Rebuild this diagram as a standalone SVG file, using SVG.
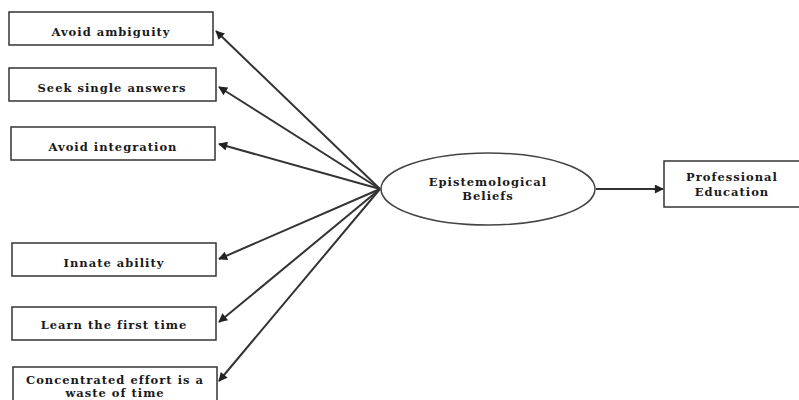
<svg xmlns="http://www.w3.org/2000/svg" width="799" height="400" viewBox="0 0 799 400">
<style>
.box{fill:#fff;stroke:#333;stroke-width:1.5}
.t{font-family:"DejaVu Serif","Liberation Serif",serif;font-weight:bold;font-size:11.5px;letter-spacing:1px;fill:#1a1a1a;text-anchor:middle}
.c{stroke:#333;stroke-width:2;fill:none;marker-end:url(#ah)}
</style>
<defs>
<marker id="ah" viewBox="0 0 10 10" refX="9" refY="5" markerWidth="6" markerHeight="4.5" orient="auto" markerUnits="strokeWidth">
<path d="M0,0 L10,5 L0,10 z" fill="#222"/>
</marker>
</defs>
<rect width="799" height="400" fill="#fff"/>
<g id="connectors">
<line class="c" x1="380" y1="189" x2="216" y2="31"/>
<line class="c" x1="380" y1="189" x2="219" y2="87"/>
<line class="c" x1="380" y1="189" x2="219" y2="144"/>
<line class="c" x1="380" y1="189" x2="219" y2="259"/>
<line class="c" x1="380" y1="189" x2="219" y2="322"/>
<line class="c" x1="380" y1="189" x2="219" y2="381"/>
<line class="c" x1="596" y1="189" x2="663" y2="189"/>
</g>
<g id="n1"><rect class="box" x="9" y="12" width="204" height="33"/><text class="t" x="111" y="36">Avoid ambiguity</text></g>
<g id="n2"><rect class="box" x="9" y="68" width="207" height="33"/><text class="t" x="112" y="92">Seek single answers</text></g>
<g id="n3"><rect class="box" x="11" y="127" width="204" height="33"/><text class="t" x="113" y="151">Avoid integration</text></g>
<g id="n4"><rect class="box" x="12" y="243" width="204" height="33"/><text class="t" x="114" y="267">Innate ability</text></g>
<g id="n5"><rect class="box" x="12" y="307" width="204" height="33"/><text class="t" x="114" y="329">Learn the first time</text></g>
<g id="n6"><rect class="box" x="13" y="367" width="204" height="40"/><text class="t" x="115" y="384">Concentrated effort is a</text><text class="t" x="115" y="397">waste of time</text></g>
<g id="eb"><ellipse cx="488" cy="189" rx="107" ry="36" fill="#fff" stroke="#444" stroke-width="1.5"/><text class="t" x="488" y="186">Epistemological</text><text class="t" x="488" y="200">Beliefs</text></g>
<g id="pe"><rect class="box" x="664" y="161" width="140" height="46"/><text class="t" x="732" y="181">Professional</text><text class="t" x="732" y="196">Education</text></g>
</svg>
